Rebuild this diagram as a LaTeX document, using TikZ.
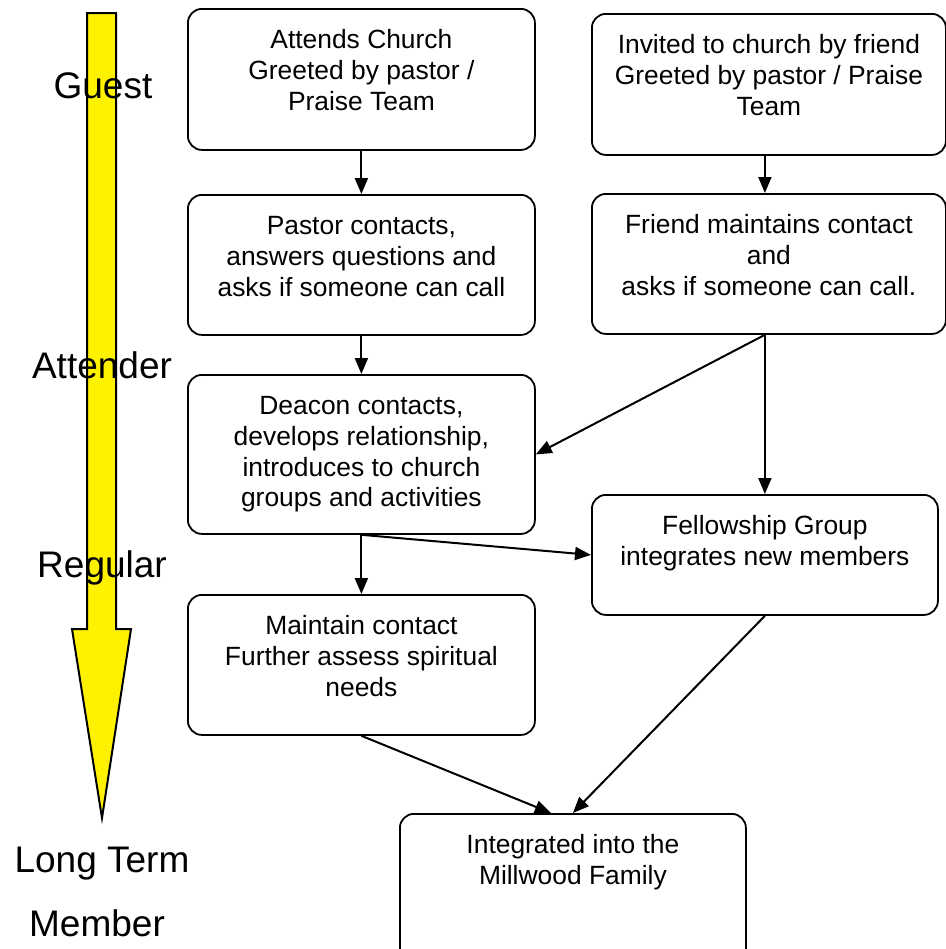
\documentclass[tikz,border=0pt]{standalone}
\usepackage{fontspec}
\setmainfont{Liberation Sans}
\usetikzlibrary{arrows.meta}

\newcommand{\stagetext}[3]{\parbox[c][#1][t]{#2}{\centering\rule{0pt}{20pt}#3}}

\tikzset{
  stage/.style={draw, rounded corners=7pt, line width=0.9pt, inner sep=0pt, anchor=north west,
    font=\fontsize{13.2}{15.3}\selectfont},
  flow/.style={-{Triangle[length=8pt,width=6.5pt]}, line width=1pt},
  level/.style={anchor=base, font=\fontsize{18.5}{22}\selectfont}
}

\begin{document}
\begin{tikzpicture}[x=0.5pt, y=-0.5pt]
    \useasboundingbox (0,0) rectangle (946,949);

    % Big yellow arrow on the left
    \draw[fill=yellow, line width=1pt] (87,13) -- (116,13) -- (116,629) -- (131,629)
      -- (102,818) -- (72,629) -- (87,629) -- cycle;

    % Stages
    \node[level] (guest) at (103,98) {Guest};
    \node[level] (attender) at (102,378) {Attender};
    \node[level] (regular) at (102,577) {Regular};
    \node[level] (longterm) at (102,872) {Long Term};
    \node[level] (member) at (97,936) {Member};

    % Left column
    \node[stage] (attends) at (187,8) {\stagetext{70.5pt}{173.5pt}{Attends Church\\Greeted by pastor /\\Praise Team}};
    \node[stage] (pastor) at (187,194) {\stagetext{70pt}{173.5pt}{Pastor contacts,\\answers questions and\\asks if someone can call}};
    \node[stage] (deacon) at (187,374) {\stagetext{79.5pt}{173.5pt}{Deacon contacts,\\develops relationship,\\introduces to church\\groups and activities}};
    \node[stage] (maintain) at (187,594) {\stagetext{70pt}{173.5pt}{Maintain contact\\Further assess spiritual\\needs}};

    % Right column
    \node[stage] (invited) at (591,13) {\stagetext{70.5pt}{177pt}{Invited to church by friend\\Greeted by pastor / Praise\\Team}};
    \node[stage] (friend) at (591,193) {\stagetext{70pt}{177pt}{Friend maintains contact\\and\\asks if someone can call.}};
    \node[stage] (fellowship) at (591,494) {\stagetext{60pt}{173pt}{Fellowship Group\\integrates new members}};

    % Goal
    \node[stage] (family) at (399,813) {\stagetext{75pt}{173pt}{Integrated into the\\Millwood Family}};

    % Connectors
    \draw[flow] (attends) -- (pastor);
    \draw[flow] (pastor) -- (deacon);
    \draw[flow] (deacon) -- (maintain);
    \draw[flow] (invited.south -| fellowship.north) -- (friend.north -| fellowship.north);
    \draw[flow] (friend.south -| fellowship.north) -- (deacon.east);
    \draw[flow] (friend.south -| fellowship.north) -- (fellowship.north);
    \draw[flow] (deacon.south) -- (fellowship.west);
    \draw[flow] (maintain.south) -- ([xshift=-11pt]family.north);
    \draw[flow] (fellowship.south) -- (family.north);
\end{tikzpicture}
\end{document}
